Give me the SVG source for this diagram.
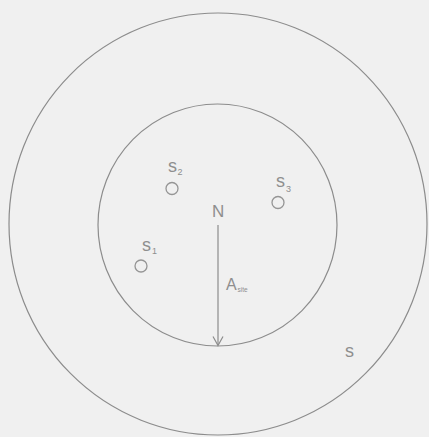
<svg xmlns="http://www.w3.org/2000/svg" width="429" height="437" viewBox="0 0 429 437">
<defs>
<style>
.ln{fill:none;stroke:#8c8c8c;stroke-width:1.2}
.site{fill:none;stroke:#959595;stroke-width:1.3}
.t{font-family:"Liberation Sans",Arial,sans-serif;fill:#8e8e8e}
.sub{font-size:9px}
</style>
<marker id="arr" viewBox="0 0 12 12" refX="10" refY="6" markerWidth="12" markerHeight="12" markerUnits="userSpaceOnUse" orient="auto">
<path d="M1,1 L10,6 L1,11" fill="none" stroke="#8c8c8c" stroke-width="1.2"/>
</marker>
</defs>
<rect width="429" height="437" fill="#f0f0f0"/>
<g id="outer"><ellipse class="ln" cx="218" cy="224" rx="209" ry="211"/><text class="t" x="345" y="357" font-size="18">s</text></g>
<g id="inner"><ellipse class="ln" cx="217.5" cy="225" rx="119.5" ry="121"/><text class="t" x="212" y="217" font-size="17">N</text></g>
<g id="s1"><circle class="site" cx="141" cy="266" r="6"/><text class="t" x="142" y="251" font-size="18">s</text><text class="t sub" x="152" y="254">1</text></g>
<g id="s2"><circle class="site" cx="172" cy="188.5" r="6"/><text class="t" x="168" y="171.5" font-size="18">s</text><text class="t sub" x="177.5" y="174.5">2</text></g>
<g id="s3"><circle class="site" cx="278" cy="202.5" r="6"/><text class="t" x="276" y="187" font-size="18">s</text><text class="t sub" x="286" y="192">3</text></g>
<g id="connectors"><line class="ln" x1="218" y1="225" x2="218" y2="345.5" marker-end="url(#arr)"/></g>
<g id="label-asite"><text class="t" x="226" y="290" font-size="16">A</text><text class="t" x="237.5" y="292" font-size="6.5">site</text></g>
</svg>
